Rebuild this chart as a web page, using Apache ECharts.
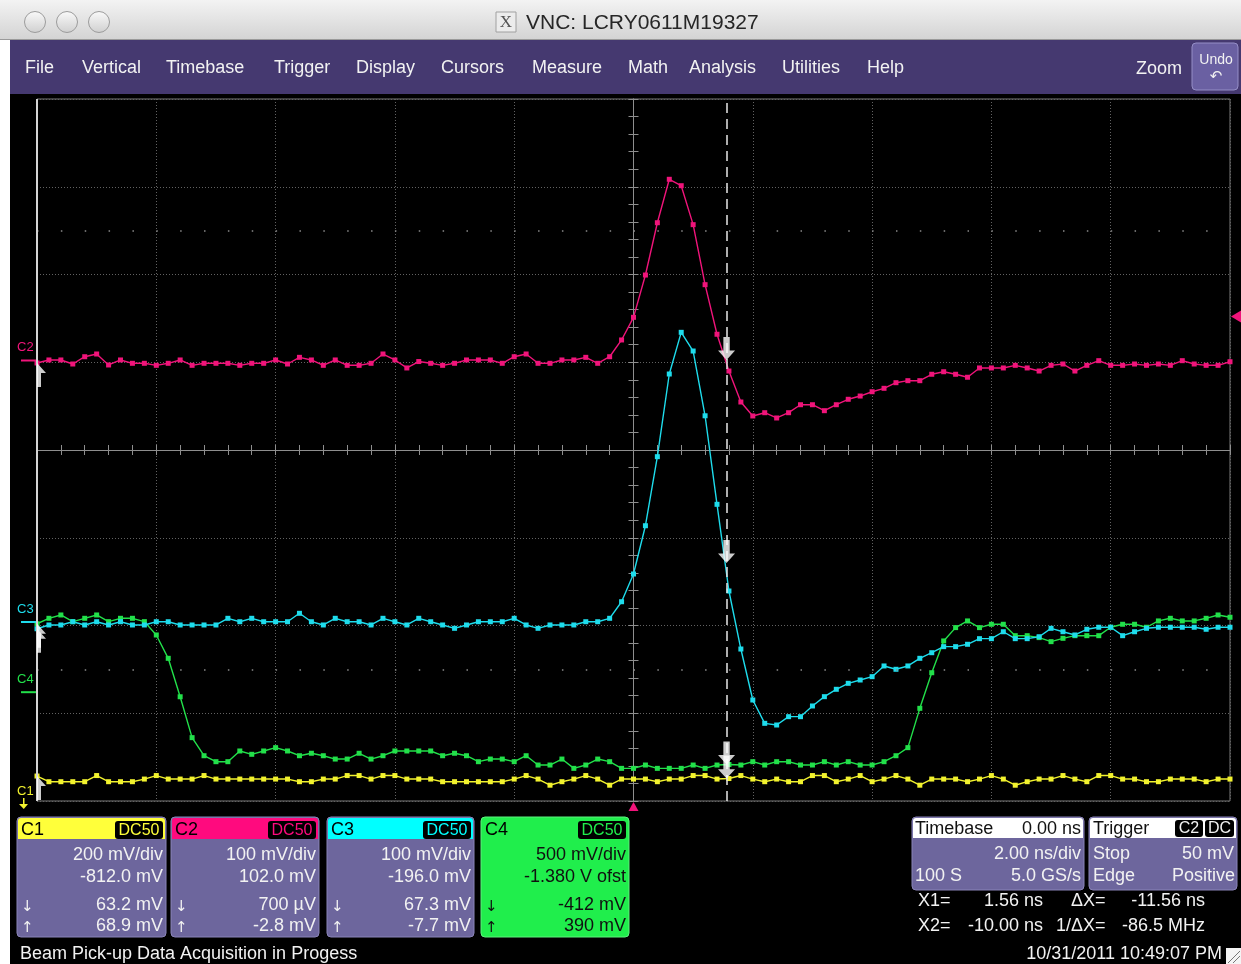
<!DOCTYPE html>
<html><head><meta charset="utf-8">
<script src="https://cdn.jsdelivr.net/npm/echarts@6/dist/echarts.min.js"></script>
<style>html,body{margin:0;padding:0;background:#fff;}#c{width:1241px;height:964px;}</style>
</head><body><div id="c"></div>
<script>
// ---------------- data ----------------
const channels = ['C1', 'C2', 'C3', 'C4'];
const voltsPerDiv = [200, 100, 100, 500];      // mV/div
const offsets = [-812, 102, -196, -1380];      // mV
const timePerDiv = 2.0;                         // ns/div
const sampleStart = -10.0;                      // ns
const sampleInterval = 0.2;                     // ns (5 GS/s)
const sampleCount = 101;
const triggerTime = 0.0;                        // ns
const triggerLevel = 50;                        // mV on C2
const cursorX1 = 1.56;                          // ns
const cursorX2 = -10.00;                        // ns
const readX1 = [63.2, 0.7, 67.3, -412];         // mV
const readX2 = [68.9, -2.8, -7.7, 390];         // mV

const c1 = [68.9, 56,56,56,56, 70, 56,56,56, 62, 70, 62,62,62, 70, 62,62,62,62,62,62,62, 56,56, 62,62, 70,70, 62, 70,70, 62,62,
  62, 56,56,56,56,56,56, 62, 70, 62, 48, 56, 62, 70, 62, 48, 62,62,62, 56, 62,62, 70,70, 62, 63.2, 70, 62, 56, 62, 56,56, 70,70, 56,
  62, 70, 56, 62, 70, 62, 48, 62,62,62, 56, 62, 70, 62, 48, 56, 62,62, 70, 62, 56, 70,70, 62,62, 56,56, 62,62,62, 56, 62,62];
const c2 = [-2.8, 0.6, 0.6, -4, 4.3, 7.4, -5.1, 0.6, -3.2, -3.2, -5.5, -3.2, 0.6, -5.5, -3.2, -3.2, -3.2, -5.5, -3.2, -3.2, 0.6, -4, 3.6,
  0.6, -5.5, 0.6, -5.5, -5.5, -3.2, 7.4, 0.6, -8.5, -1.2,
  -3.2, -5.5, -3.2, 0.6, 0.6, 0.6, -3.2, 4.3, 7.4, -3.2, -3.2, 0.6, 0.6, 3.6, -3.2, 4.3, 23.4, 49.2, 97.4, 157, 206.5, 199.2, 154.8,
  86.4, 29.9, -12, -47.3, -63.2, -59.5, -65.5, -59.5, -50.4, -50.4, -57.2, -50.4, -44.2, -40.5, -35.6, -31.7, -25.3, -23, -23, -15.7,
  -12.8, -15.7, -19.1, -8.5, -8.5, -8.5, -5.5, -8.5, -12, -5.5, -4, -12, -5.5, -0.2, -5.5, -5.5, -4, -5.5, -4, -5.5, -0.2, -4, -5.5, -5.5, -1.4];
const c3 = [-7.7, -3.4, -3.4, 0.3, -3.4, 0.3, -3.4, 0.3, -3.4, -3.4, 0.3, 0.3, -3.4, -3.4, -3.4, -3.4, 4.2, 0.3, 4.2, 0.3, 0.3, 0.3, 9.9,
  0.3, -3.4, 4.2, 0.3, 0.3, -3.4, 4.2, 0.3, -3.4, 4.2,
  0.3, -3.4, -7.2, -3.4, 0.3, 0.3, 0.3, 4.2, -3.4, -7.2, -3.4, -3.4, -3.4, 0.3, 0.3, 4.2, 23.1, 54.7, 109.7, 188.4, 282.6, 330.1, 308.8,
  235, 134.1, 35.3, -30.8, -88.9, -115.5, -117.4, -107.9, -107.9, -95.7, -85.1, -76.7, -69.9, -66.1, -62.3, -50.1, -53.9, -50.1, -41.4,
  -35, -28.1, -28.1, -25.4, -19, -19, -11.1, -19, -19, -16.8, -7.2, -11.1, -14.8, -8.3, -6, -6, -15.6, -11.1, -7.2, -6, -6, -6, -6, -8.3, -6, -6];
const c4 = [390, 421, 440, 402, 421, 440, 402, 421, 421, 402, 326, 193, -26, -259, -362, -396, -396, -335, -354, -335, -316, -335, -362,
  -348, -362, -381, -381, -348, -381, -362, -335, -335, -335,
  -335, -362, -348, -362, -396, -381, -381, -396, -362, -415, -415, -381, -434, -415, -381, -396, -434, -434, -415, -434, -434, -434,
  -415, -434, -415, -412, -415, -396, -415, -396, -396, -415, -415, -396, -415, -396, -415, -415, -396, -362, -316, -92, 111, 292, 368,
  406, 368, 387, 387, 322, 322, 311, 288, 307, 322, 322, 322, 370, 387, 387, 370, 406, 421, 406, 406, 421, 440, 427];
const traces = [c1, c2, c3, c4];

// ---------------- style ----------------
const traceColors = ['#f2f22e', '#f0147a', '#1edcec', '#22e04a'];
const headerColors = ['#ffff3a', '#ff0a7e', '#00ffff', '#20ee4c'];
const FONT = '"Liberation Sans", Arial, sans-serif';
const BOXFILL = '#6d669d';
const G = {left: 37, top: 99, width: 1193, height: 702};

const sampleTimes = [];
for (let i = 0; i < sampleCount; i++) sampleTimes.push(+(sampleStart + i * sampleInterval).toFixed(2));

const chart = echarts.init(document.getElementById('c'), null, {renderer: 'canvas', width: 1241, height: 964});

const gridSplit = {show: true, lineStyle: {color: '#626262', type: [1, 2], width: 1}};
const hid = {axisLine: {show: false}, axisTick: {show: false}, axisLabel: {show: false}};
const crossLine = {color: '#8e8e8e', width: 1};

function centerAxis(dimMin, dimMax, intv, inside) {
  return {
    type: 'value', min: dimMin, max: dimMax, interval: intv,
    axisLine: {show: true, onZero: true, onZeroAxisIndex: 0, lineStyle: crossLine},
    axisTick: {show: true, inside: inside, length: 5, lineStyle: crossLine},
    minorTick: {show: true, splitNumber: 5, length: 5, lineStyle: crossLine},
    axisLabel: {show: false}, splitLine: {show: false}, minorSplitLine: {show: false}
  };
}

const xAxes = [
  Object.assign({type: 'value', min: -5 * timePerDiv, max: 5 * timePerDiv, interval: timePerDiv, splitLine: gridSplit}, hid),
  Object.assign(centerAxis(-5 * timePerDiv, 5 * timePerDiv, timePerDiv, false), {position: 'bottom'}),
  Object.assign(centerAxis(-5 * timePerDiv, 5 * timePerDiv, timePerDiv, true), {position: 'bottom'})
];
const yAxes = [
  Object.assign({type: 'value', min: -4, max: 4, interval: 1, splitLine: gridSplit}, hid),
  Object.assign(centerAxis(-4, 4, 1, false), {position: 'left'}),
  Object.assign(centerAxis(-4, 4, 1, true), {position: 'left'})
];
channels.forEach((c, k) => {
  const center = -offsets[k];
  yAxes.push({type: 'value', show: false, min: center - 4 * voltsPerDiv[k], max: center + 4 * voltsPerDiv[k], splitLine: {show: false}});
});

const dotRow = {color: '#8a8a8a', width: 1.5, type: [1.5, 22.36]};
const series = [{
  type: 'line', xAxisIndex: 0, yAxisIndex: 0, data: [[0, 0]], symbol: 'none', lineStyle: {width: 0}, silent: true,
  markLine: {
    silent: true, symbol: 'none', label: {show: false}, animation: false,
    data: [
      {yAxis: 2.5, lineStyle: dotRow},
      {yAxis: -2.5, lineStyle: dotRow},
      {xAxis: cursorX2, lineStyle: {color: '#d4d4d4', type: 'solid', width: 2}},
      {xAxis: cursorX1, lineStyle: {color: '#e8e8e8', type: [10, 6], width: 1.5}}
    ]
  }
}];
[0, 1, 3, 2].forEach(k => {
  series.push({
    type: 'line', name: channels[k], xAxisIndex: 0, yAxisIndex: 3 + k,
    data: sampleTimes.map((t, i) => [t, traces[k][i]]),
    symbol: 'rect', symbolSize: 5, showSymbol: true, showAllSymbol: true,
    lineStyle: {color: traceColors[k], width: 1.4}, itemStyle: {color: traceColors[k]},
    emphasis: {disabled: true}, silent: true, z: 3
  });
});
const downArrow = 'path://M5,0 L11,0 L11,13 L16,13 L8,22 L0,13 L5,13 Z';
const halfUp = 'path://M0,0 L9,10 L4,10 L4,24 L0,24 Z';
channels.forEach((c, k) => {
  series.push({
    type: 'scatter', xAxisIndex: 0, yAxisIndex: 3 + k, data: [[cursorX1, readX1[k]]],
    symbol: downArrow, symbolSize: [17, 23], symbolOffset: [0, '-50%'], itemStyle: {color: '#ffffff'},
    clip: false, silent: true, z: 6
  });
  series.push({
    type: 'scatter', xAxisIndex: 0, yAxisIndex: 3 + k, data: [[cursorX2, readX2[k]]],
    symbol: halfUp, symbolSize: [9, 24], symbolOffset: ['50%', '50%'], itemStyle: {color: '#ffffff'},
    clip: false, silent: true, z: 6
  });
});

chart.setOption({
  animation: false,
  backgroundColor: 'transparent',
  grid: Object.assign({show: true, borderColor: '#7a7a7a', borderWidth: 1, backgroundColor: 'transparent', containLabel: false, outerBoundsMode: 'none'}, G),
  xAxis: xAxes,
  yAxis: yAxes,
  series: series
});

// ---------------- chrome & overlays ----------------
function txt(x, y, s, o) {
  o = o || {};
  return {type: 'text', z: o.z != null ? o.z : 50, silent: true,
    style: {text: s, x: x, y: y, fill: o.fill || '#f2f2f2', font: (o.size || 18) + 'px ' + (o.family || FONT),
      align: o.align || 'left', verticalAlign: 'middle'}};
}
function rect(x, y, w, h, fill, o) {
  o = o || {};
  return {type: 'rect', z: o.z != null ? o.z : 40, silent: true,
    shape: {x: x, y: y, width: w, height: h, r: o.r || 0},
    style: {fill: fill, stroke: o.stroke || null, lineWidth: o.lw || 1}};
}

const gfx = [];
// backgrounds (behind the chart)
gfx.push(rect(0, 0, 1241, 964, '#ffffff', {z: -20}));
gfx.push({type: 'rect', z: -19, silent: true, shape: {x: 0, y: 0, width: 1241, height: 40},
  style: {fill: new echarts.graphic.LinearGradient(0, 0, 0, 1, [{offset: 0, color: '#f3f3f3'}, {offset: 1, color: '#d3d3d3'}])}});
gfx.push(rect(0, 39, 1241, 1, '#9a9a9a', {z: -18}));
gfx.push(rect(10, 40, 1231, 54, '#453970', {z: -18}));
gfx.push(rect(10, 94, 1231, 870, '#000000', {z: -18}));

// title bar
[35, 67, 99].forEach(cx => gfx.push({type: 'circle', z: 50, silent: true, shape: {cx: cx, cy: 22, r: 10.5},
  style: {fill: new echarts.graphic.LinearGradient(0, 0, 0, 1, [{offset: 0, color: '#fafafa'}, {offset: 1, color: '#cfcfcf'}]), stroke: '#9c9c9c', lineWidth: 1}}));
gfx.push(rect(496, 12, 20, 20, '#ececec', {stroke: '#a0a0a0', z: 50}));
gfx.push(txt(506, 22.5, 'X', {fill: '#555', size: 17, family: '"Liberation Serif", serif', align: 'center'}));
gfx.push(txt(526, 23, 'VNC: LCRY0611M19327', {fill: '#262626', size: 21}));

// menu bar
const menuItems = ['File', 'Vertical', 'Timebase', 'Trigger', 'Display', 'Cursors', 'Measure', 'Math', 'Analysis', 'Utilities', 'Help'];
const menuX = [25, 82, 166, 274, 356, 441, 532, 628, 689, 782, 867];
menuItems.forEach((m, i) => gfx.push(txt(menuX[i], 68, m, {size: 18})));
gfx.push(txt(1136, 69, 'Zoom', {size: 18}));
gfx.push(rect(1192, 43, 46, 47, '#6a60a2', {stroke: '#958ec6', r: 4, z: 45}));
gfx.push(txt(1216, 60, 'Undo', {size: 14, align: 'center'}));
gfx.push(txt(1216, 77, '↶', {size: 15, align: 'center', family: '"DejaVu Sans", sans-serif'}));

// channel boxes
const boxX = [17, 171, 327, 481], boxW = [149, 148, 147, 148];
function fmtRead(v) {
  if (Math.abs(v) < 1) return Math.round(v * 1000) + ' µV';
  if (Math.abs(v) >= 100) return Math.round(v) + ' mV';
  return v.toFixed(1) + ' mV';
}
channels.forEach((c, k) => {
  const x = boxX[k], w = boxW[k], y = 817, h = 120;
  const isC4 = k === 3;
  const body = isC4 ? headerColors[3] : BOXFILL;
  const fg = isC4 ? '#101010' : '#f2f2f2';
  gfx.push(rect(x, y, w, h, body, {r: 4, stroke: isC4 ? '#5cf27c' : '#8a84b8'}));
  if (!isC4) gfx.push(rect(x + 1, y + 1, w - 2, 21, headerColors[k], {r: [3, 3, 0, 0], z: 41}));
  gfx.push(txt(x + 4, y + 13, c, {fill: '#000', size: 18}));
  gfx.push(rect(x + w - 51, y + 4, 48, 18, '#000', {r: 3, z: 42}));
  gfx.push(txt(x + w - 27, y + 14, 'DC50', {fill: headerColors[k], size: 16, align: 'center'}));
  gfx.push(txt(x + w - 3, 855, voltsPerDiv[k] + ' mV/div', {fill: fg, align: 'right'}));
  const offTxt = isC4 ? (offsets[k] / 1000).toFixed(3) + ' V ofst' : offsets[k].toFixed(1) + ' mV';
  gfx.push(txt(x + w - 3, 877, offTxt, {fill: fg, align: 'right'}));
  gfx.push(txt(x + w - 3, 905, fmtRead(readX1[k]), {fill: fg, align: 'right'}));
  gfx.push(txt(x + w - 3, 926, fmtRead(readX2[k]), {fill: fg, align: 'right'}));
  gfx.push(txt(x + 4, 907, '↓', {fill: fg, size: 15, family: '"DejaVu Sans", sans-serif'}));
  gfx.push(txt(x + 4, 928, '↑', {fill: fg, size: 15, family: '"DejaVu Sans", sans-serif'}));
});

// timebase box
gfx.push(rect(912, 817, 172, 73, BOXFILL, {r: 4, stroke: '#8a84b8'}));
gfx.push(rect(913, 818, 170, 20, '#ffffff', {r: [3, 3, 0, 0], z: 41}));
gfx.push(txt(915, 829, 'Timebase', {fill: '#111'}));
gfx.push(txt(1081, 829, triggerTime.toFixed(2) + ' ns', {fill: '#111', align: 'right'}));
gfx.push(txt(1081, 854, timePerDiv.toFixed(2) + ' ns/div', {align: 'right'}));
gfx.push(txt(915, 876, (sampleCount - 1) + ' S', {}));
gfx.push(txt(1081, 876, (1 / sampleInterval).toFixed(1) + ' GS/s', {align: 'right'}));
// trigger box
gfx.push(rect(1089, 817, 148, 73, BOXFILL, {r: 4, stroke: '#8a84b8'}));
gfx.push(rect(1090, 818, 146, 20, '#ffffff', {r: [3, 3, 0, 0], z: 41}));
gfx.push(txt(1093, 829, 'Trigger', {fill: '#111'}));
gfx.push(rect(1175, 820, 28, 17, '#000', {r: 3, z: 42}));
gfx.push(txt(1189, 829, 'C2', {size: 16, align: 'center'}));
gfx.push(rect(1205, 820, 29, 17, '#000', {r: 3, z: 42}));
gfx.push(txt(1219.5, 829, 'DC', {size: 16, align: 'center'}));
gfx.push(txt(1093, 854, 'Stop', {}));
gfx.push(txt(1234, 854, triggerLevel + ' mV', {align: 'right'}));
gfx.push(txt(1093, 876, 'Edge', {}));
gfx.push(txt(1235, 876, 'Positive', {align: 'right'}));

// cursor readouts
const dX = cursorX2 - cursorX1;
gfx.push(txt(918, 901, 'X1=', {}));
gfx.push(txt(1043, 901, cursorX1.toFixed(2) + ' ns', {align: 'right'}));
gfx.push(txt(1071, 901, 'ΔX=', {}));
gfx.push(txt(1205, 901, dX.toFixed(2) + ' ns', {align: 'right'}));
gfx.push(txt(918, 926, 'X2=', {}));
gfx.push(txt(1043, 926, cursorX2.toFixed(2) + ' ns', {align: 'right'}));
gfx.push(txt(1056, 926, '1/ΔX=', {}));
gfx.push(txt(1205, 926, (1000 / dX).toFixed(1) + ' MHz', {align: 'right'}));

// status line
gfx.push(txt(20, 954, 'Beam Pick-up Data Acquisition in Progess', {}));
gfx.push(txt(1222, 954, '10/31/2011 10:49:07 PM', {align: 'right'}));
gfx.push(rect(1226, 948, 15, 16, '#f4f4f4', {z: 45}));
[[1228, 963, 1240, 951], [1233, 963, 1240, 956]].forEach(p => gfx.push({type: 'line', z: 46, silent: true,
  shape: {x1: p[0], y1: p[1], x2: p[2], y2: p[3]}, style: {stroke: '#777', lineWidth: 1}}));

// ground markers (through the channel scales)
const gridBottom = G.top + G.height;
channels.forEach((c, k) => {
  const gy = chart.convertToPixel({yAxisIndex: 3 + k}, 0);
  if (gy > gridBottom) {
    gfx.push(txt(17, gridBottom - 10, c, {fill: traceColors[k], size: 13}));
    gfx.push(rect(23, gridBottom - 3, 1.5, 8, traceColors[k], {z: 50}));
    gfx.push({type: 'polygon', z: 50, silent: true, shape: {points: [[19, gridBottom + 3], [28, gridBottom + 3], [23.75, gridBottom + 8]]}, style: {fill: traceColors[k]}});
  } else {
    gfx.push(txt(17, gy - 13, c, {fill: traceColors[k], size: 13}));
    gfx.push(rect(21, gy - 1, 15, 2, traceColors[k], {z: 50}));
  }
});
// trigger markers
const ty = chart.convertToPixel({yAxisIndex: 4}, triggerLevel);
gfx.push({type: 'polygon', z: 50, silent: true, shape: {points: [[1231, ty], [1241, ty - 6], [1241, ty + 6]]}, style: {fill: traceColors[1]}});
const tx = chart.convertToPixel({xAxisIndex: 0}, triggerTime);
gfx.push({type: 'polygon', z: 50, silent: true, shape: {points: [[tx, gridBottom + 1], [tx - 5, gridBottom + 10], [tx + 5, gridBottom + 10]]}, style: {fill: traceColors[1]}});

chart.setOption({graphic: {elements: gfx}});
</script>
</body></html>
